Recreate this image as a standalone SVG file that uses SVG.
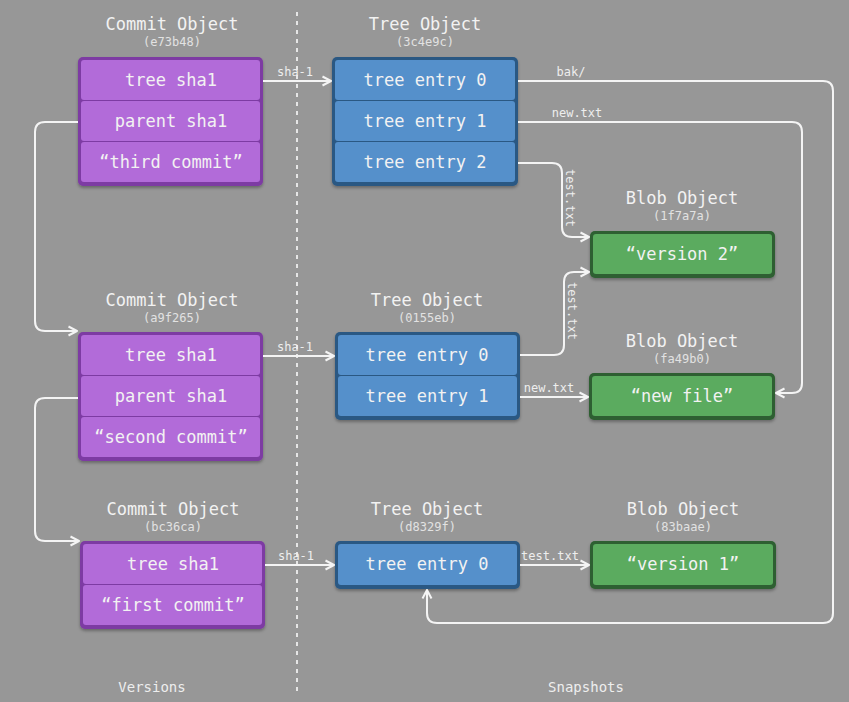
<svg xmlns="http://www.w3.org/2000/svg" width="849" height="702" viewBox="0 0 849 702">
  <style>
    text { font-family: "DejaVu Sans Mono", "Liberation Mono", monospace; fill: #f2f2f2; text-anchor: middle; }
    .title { font-size: 17px; }
    .hash { font-size: 12px; fill: #e2e2e2; }
    .row { font-size: 17px; dominant-baseline: central; }
    .lbl { font-size: 12px; fill: #eeeeee; }
    .foot { font-size: 14px; fill: #eeeeee; }
    .commit .frame { fill: #7d3aa3; }
    .commit .cell { fill: #b26bd9; }
    .tree .frame { fill: #2c5883; }
    .tree .cell { fill: #5590cb; }
    .blob .frame { fill: #2d5f30; }
    .blob .cell { fill: #5bab5f; }
    .frame { filter: url(#shadow); }
    #connectors path { fill: none; stroke: #f4f4f4; stroke-width: 2; }
  </style>
  <defs>
    <marker id="arrow" viewBox="0 0 12 12" refX="10.5" refY="6" markerWidth="12" markerHeight="12" markerUnits="userSpaceOnUse" orient="auto">
      <path d="M2,1.5 L10.5,6 L2,10.5" fill="none" stroke="#f4f4f4" stroke-width="2" stroke-linejoin="round"/>
    </marker>
    <filter id="shadow" x="-10%" y="-10%" width="120%" height="130%">
      <feDropShadow dx="0" dy="2" stdDeviation="1.5" flood-color="#000" flood-opacity="0.3"/>
    </filter>
  </defs>

  <rect width="849" height="702" fill="#979797"/>

  <!-- divider between versions and snapshots -->
  <line x1="297" y1="12" x2="297" y2="696" stroke="#e6e6e6" stroke-width="2" stroke-dasharray="4 5"/>
  <text class="foot" x="152" y="692">Versions</text>
  <text class="foot" x="586" y="692">Snapshots</text>

  <!-- commit e73b48 -->
  <g id="commit-e73b48" class="commit">
    <text class="title" x="172" y="30">Commit Object</text>
    <text class="hash" x="172" y="46">(e73b48)</text>
    <rect class="frame" x="78" y="57" width="185" height="129" rx="5"/>
    <rect class="cell" x="81" y="60" width="179" height="40" rx="3"/>
    <rect class="cell" x="81" y="101" width="179" height="40" rx="3"/>
    <rect class="cell" x="81" y="142" width="179" height="40" rx="3"/>
    <text class="row" x="171" y="80">tree sha1</text>
    <text class="row" x="171" y="121">parent sha1</text>
    <text class="row" x="171" y="162">“third commit”</text>
  </g>

  <!-- commit a9f265 -->
  <g id="commit-a9f265" class="commit">
    <text class="title" x="172" y="306">Commit Object</text>
    <text class="hash" x="172" y="322">(a9f265)</text>
    <rect class="frame" x="78" y="332" width="185" height="129" rx="5"/>
    <rect class="cell" x="81" y="335" width="179" height="40" rx="3"/>
    <rect class="cell" x="81" y="376" width="179" height="40" rx="3"/>
    <rect class="cell" x="81" y="417" width="179" height="40" rx="3"/>
    <text class="row" x="171" y="355">tree sha1</text>
    <text class="row" x="171" y="396">parent sha1</text>
    <text class="row" x="171" y="437">“second commit”</text>
  </g>

  <!-- commit bc36ca -->
  <g id="commit-bc36ca" class="commit">
    <text class="title" x="173" y="515">Commit Object</text>
    <text class="hash" x="173" y="531">(bc36ca)</text>
    <rect class="frame" x="80" y="541" width="185" height="88" rx="5"/>
    <rect class="cell" x="83" y="544" width="179" height="40" rx="3"/>
    <rect class="cell" x="83" y="585" width="179" height="40" rx="3"/>
    <text class="row" x="173" y="564">tree sha1</text>
    <text class="row" x="173" y="605">“first commit”</text>
  </g>

  <!-- tree 3c4e9c -->
  <g id="tree-3c4e9c" class="tree">
    <text class="title" x="425" y="30">Tree Object</text>
    <text class="hash" x="425" y="46">(3c4e9c)</text>
    <rect class="frame" x="332" y="57" width="186" height="129" rx="5"/>
    <rect class="cell" x="335" y="60" width="180" height="40" rx="3"/>
    <rect class="cell" x="335" y="101" width="180" height="40" rx="3"/>
    <rect class="cell" x="335" y="142" width="180" height="40" rx="3"/>
    <text class="row" x="425" y="80">tree entry 0</text>
    <text class="row" x="425" y="121">tree entry 1</text>
    <text class="row" x="425" y="162">tree entry 2</text>
  </g>

  <!-- tree 0155eb -->
  <g id="tree-0155eb" class="tree">
    <text class="title" x="427" y="306">Tree Object</text>
    <text class="hash" x="427" y="322">(0155eb)</text>
    <rect class="frame" x="335" y="332" width="185" height="88" rx="5"/>
    <rect class="cell" x="338" y="335" width="179" height="40" rx="3"/>
    <rect class="cell" x="338" y="376" width="179" height="40" rx="3"/>
    <text class="row" x="427" y="355">tree entry 0</text>
    <text class="row" x="427" y="396">tree entry 1</text>
  </g>

  <!-- tree d8329f -->
  <g id="tree-d8329f" class="tree">
    <text class="title" x="427" y="515">Tree Object</text>
    <text class="hash" x="427" y="531">(d8329f)</text>
    <rect class="frame" x="335" y="541" width="185" height="48" rx="5"/>
    <rect class="cell" x="338" y="544" width="179" height="41" rx="3"/>
    <text class="row" x="427" y="564">tree entry 0</text>
  </g>

  <!-- blob 1f7a7a -->
  <g id="blob-1f7a7a" class="blob">
    <text class="title" x="682" y="204">Blob Object</text>
    <text class="hash" x="682" y="220">(1f7a7a)</text>
    <rect class="frame" x="590" y="231" width="185" height="47" rx="5"/>
    <rect class="cell" x="593" y="234" width="179" height="40" rx="3"/>
    <text class="row" x="682" y="254">“version 2”</text>
  </g>

  <!-- blob fa49b0 -->
  <g id="blob-fa49b0" class="blob">
    <text class="title" x="682" y="347">Blob Object</text>
    <text class="hash" x="682" y="363">(fa49b0)</text>
    <rect class="frame" x="589" y="373" width="186" height="47" rx="5"/>
    <rect class="cell" x="592" y="376" width="180" height="40" rx="3"/>
    <text class="row" x="682" y="396">“new file”</text>
  </g>

  <!-- blob 83baae -->
  <g id="blob-83baae" class="blob">
    <text class="title" x="683" y="515">Blob Object</text>
    <text class="hash" x="683" y="531">(83baae)</text>
    <rect class="frame" x="590" y="541" width="186" height="48" rx="5"/>
    <rect class="cell" x="593" y="544" width="180" height="41" rx="3"/>
    <text class="row" x="683" y="564">“version 1”</text>
  </g>

  <!-- connectors -->
  <g id="connectors">
    <!-- commit -> tree -->
    <path d="M263,81 H331" marker-end="url(#arrow)"/>
    <path d="M263,356 H334" marker-end="url(#arrow)"/>
    <path d="M265,565 H334" marker-end="url(#arrow)"/>
    <!-- parent links -->
    <path d="M78,122 H45 Q35,122 35,132 V321 Q35,331 45,331 H77" marker-end="url(#arrow)"/>
    <path d="M78,398 H45 Q35,398 35,408 V531 Q35,541 45,541 H79" marker-end="url(#arrow)"/>
    <!-- tree 3c4e9c entries -->
    <path d="M518,81 H823 Q833,81 833,91 V613 Q833,623 823,623 H437 Q427,623 427,613 V590" marker-end="url(#arrow)"/>
    <path d="M518,122 H792 Q802,122 802,132 V383 Q802,393 792,393 H776" marker-end="url(#arrow)"/>
    <path d="M518,163 H552 Q562,163 562,173 V227 Q562,237 572,237 H589" marker-end="url(#arrow)"/>
    <!-- tree 0155eb entries -->
    <path d="M520,355 H554 Q564,355 564,345 V282 Q564,272 574,272 H589" marker-end="url(#arrow)"/>
    <path d="M520,397 H588" marker-end="url(#arrow)"/>
    <!-- tree d8329f entry -->
    <path d="M520,565 H589" marker-end="url(#arrow)"/>
  </g>

  <!-- connector labels -->
  <g id="connector-labels">
    <text class="lbl" x="295" y="76">sha-1</text>
    <text class="lbl" x="295" y="351">sha-1</text>
    <text class="lbl" x="296" y="560">sha-1</text>
    <text class="lbl" x="571" y="76">bak/</text>
    <text class="lbl" x="577" y="117">new.txt</text>
    <text class="lbl" x="549" y="392">new.txt</text>
    <text class="lbl" x="550" y="560">test.txt</text>
    <text class="lbl" transform="translate(566,198) rotate(90)">test.txt</text>
    <text class="lbl" transform="translate(568,311) rotate(90)">test.txt</text>
  </g>
</svg>
